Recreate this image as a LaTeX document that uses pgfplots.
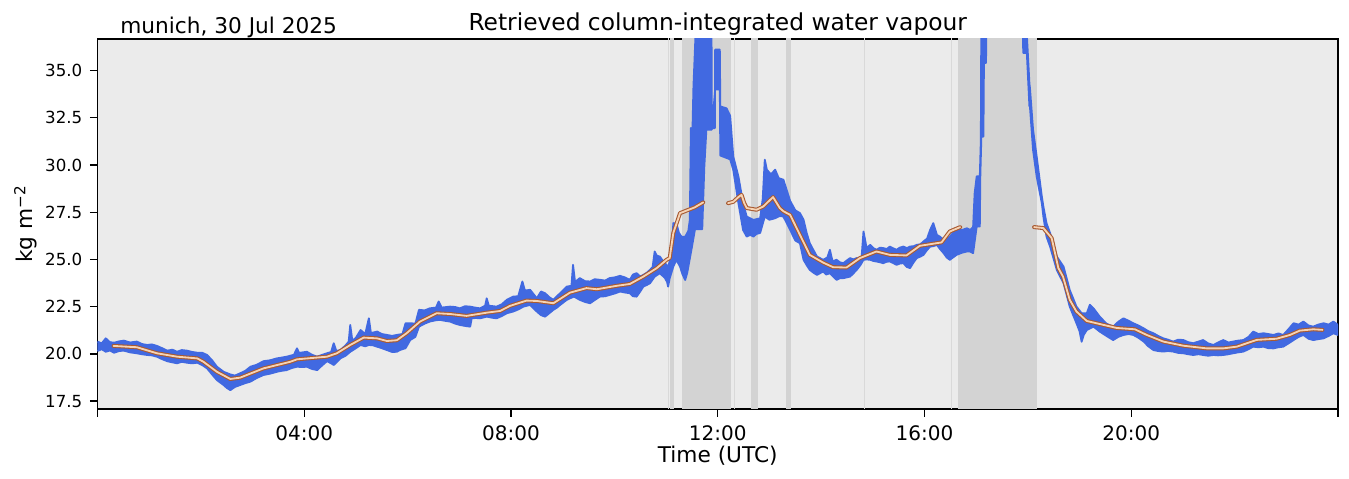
\documentclass[border=0pt]{standalone}
\usepackage{fontspec}
\setmainfont{DejaVu Sans}
\usepackage{pgfplots}
\usepackage{pgfplotstable}
\pgfplotsset{compat=1.18}

\definecolor{bgc}{HTML}{EBEBEB}
\definecolor{bandc}{HTML}{D3D3D3}
\definecolor{thinc}{HTML}{D9D9D9}
\definecolor{wvblue}{HTML}{4169E1}
\definecolor{smout}{HTML}{A85A32}
\definecolor{smin}{HTML}{F6D3B4}

% upper edge of the retrieved IWV scatter
\pgfplotstableread{
t v
0.00 20.65
0.08 20.55
0.16 20.82
0.24 20.62
0.32 20.59
0.42 20.66
0.51 20.70
0.63 20.60
0.76 20.65
0.86 20.52
0.96 20.47
1.05 20.50
1.15 20.42
1.25 20.30
1.35 20.17
1.45 20.22
1.54 20.11
1.63 20.20
1.73 20.17
1.83 20.10
1.93 20.06
2.03 20.05
2.12 19.94
2.22 19.65
2.31 19.32
2.44 19.05
2.57 18.91
2.66 18.85
2.76 18.97
2.86 19.10
2.96 19.32
3.08 19.42
3.21 19.61
3.34 19.66
3.47 19.76
3.56 19.80
3.66 19.85
3.80 19.95
3.86 20.29
3.90 20.05
4.05 20.11
4.15 19.95
4.25 19.85
4.35 19.95
4.44 20.03
4.52 20.10
4.57 20.56
4.62 20.15
4.70 20.20
4.80 20.45
4.86 20.65
4.89 21.53
4.93 20.70
5.00 20.85
5.09 21.26
5.18 21.05
5.25 21.88
5.29 21.10
5.41 21.18
5.50 21.05
5.60 21.00
5.70 20.95
5.79 21.00
5.90 21.05
5.96 21.62
6.05 21.62
6.15 21.60
6.22 22.33
6.33 22.30
6.43 22.41
6.55 22.45
6.60 22.77
6.66 22.45
6.82 22.50
6.92 22.48
7.01 22.41
7.11 22.52
7.21 22.50
7.30 22.45
7.40 22.41
7.50 22.55
7.53 22.94
7.57 22.55
7.72 22.50
7.82 22.62
7.92 22.86
8.04 23.03
8.14 23.05
8.22 23.83
8.27 23.35
8.37 23.39
8.44 23.15
8.50 22.94
8.58 23.30
8.66 23.21
8.74 23.00
8.82 22.86
8.89 23.05
8.95 23.21
9.08 23.56
9.17 23.60
9.20 24.71
9.24 23.80
9.33 24.01
9.43 23.85
9.53 23.83
9.62 23.95
9.72 23.92
9.82 23.88
9.91 24.01
10.01 24.05
10.11 24.13
10.20 24.05
10.30 23.92
10.36 24.20
10.43 24.27
10.50 24.10
10.56 24.18
10.63 24.30
10.69 24.45
10.74 24.60
10.78 25.42
10.82 25.20
10.88 25.15
10.93 24.95
10.98 24.80
11.04 24.60
11.07 24.90
11.12 25.80
11.14 26.92
11.20 26.90
11.25 26.40
11.30 26.20
11.37 26.20
11.43 26.50
11.46 27.10
11.48 31.96
11.50 30.50
11.53 34.17
11.57 36.90
11.88 36.90
11.885 31.95
11.945 31.95
11.95 36.11
12.04 36.11
12.05 33.10
12.17 33.00
12.24 32.60
12.30 30.45
12.40 29.39
12.49 27.98
12.56 27.27
12.69 27.09
12.82 27.18
12.87 28.20
12.91 30.28
12.95 29.75
13.03 29.50
13.11 29.75
13.18 29.30
13.27 29.22
13.40 28.10
13.50 27.60
13.59 27.45
13.66 27.10
13.72 26.40
13.78 25.86
13.85 25.50
13.92 25.15
14.04 24.98
14.12 25.10
14.17 25.51
14.22 24.90
14.30 24.98
14.36 24.85
14.43 24.80
14.50 24.95
14.56 25.07
14.62 25.00
14.69 25.07
14.78 25.00
14.82 26.48
14.88 25.60
14.95 25.77
15.01 25.60
15.07 25.51
15.14 25.62
15.20 25.60
15.27 25.55
15.33 25.68
15.40 25.58
15.46 25.51
15.52 25.62
15.59 25.68
15.66 25.60
15.72 25.68
15.79 25.70
15.85 25.77
15.92 25.80
15.98 25.95
16.05 26.10
16.11 26.57
16.17 26.92
16.24 26.30
16.30 26.20
16.37 26.04
16.43 26.10
16.49 26.21
16.55 26.40
16.62 26.57
16.72 26.55
16.82 26.65
16.88 26.56
16.94 26.70
16.97 28.50
17.01 29.40
17.07 29.40
17.09 31.30
17.10 38.50
17.97 38.50
17.98 36.90
18.03 34.30
18.04 34.08
18.10 31.87
18.17 30.45
18.27 28.33
18.30 27.80
18.36 26.92
18.43 26.39
18.56 25.15
18.69 24.62
18.81 23.38
18.94 22.50
19.04 22.15
19.14 22.15
19.20 22.60
19.27 22.41
19.39 21.97
19.52 21.60
19.65 21.44
19.75 21.70
19.85 21.88
19.95 21.75
20.04 21.62
20.14 21.50
20.24 21.35
20.33 21.20
20.43 21.09
20.52 20.95
20.62 20.82
20.71 20.75
20.81 20.65
20.91 20.75
21.01 20.73
21.10 20.62
21.20 20.56
21.30 20.65
21.39 20.73
21.49 20.55
21.59 20.47
21.68 20.60
21.78 20.73
21.88 20.60
21.97 20.65
22.07 20.70
22.17 20.73
22.27 20.90
22.36 21.18
22.46 21.05
22.56 21.09
22.65 21.05
22.75 21.00
22.85 21.08
22.94 21.00
23.04 21.30
23.14 21.62
23.24 21.55
23.33 21.71
23.43 21.50
23.52 21.44
23.62 21.55
23.72 21.62
23.82 21.55
23.91 21.71
24.00 21.53
}\upperedge

% lower edge of the retrieved IWV scatter
\pgfplotstableread{
t v
0.00 20.15
0.08 20.25
0.16 20.11
0.24 20.18
0.32 20.06
0.42 20.15
0.51 20.17
0.63 20.08
0.76 20.03
0.86 19.98
0.96 19.94
1.05 19.92
1.15 19.85
1.25 19.72
1.35 19.61
1.45 19.55
1.54 19.50
1.63 19.58
1.73 19.53
1.83 19.50
1.93 19.53
2.03 19.40
2.12 19.23
2.22 18.90
2.31 18.61
2.44 18.35
2.50 18.20
2.57 18.08
2.66 18.25
2.76 18.35
2.86 18.45
2.96 18.53
3.08 18.72
3.21 18.88
3.34 18.95
3.47 19.05
3.56 19.10
3.66 19.14
3.76 19.25
3.86 19.32
3.96 19.30
4.05 19.32
4.15 19.20
4.25 19.14
4.35 19.40
4.44 19.61
4.52 19.50
4.57 19.41
4.64 19.60
4.70 19.76
4.80 19.90
4.89 20.11
5.00 20.30
5.09 20.47
5.18 20.40
5.25 20.47
5.33 20.45
5.41 20.38
5.50 20.30
5.60 20.20
5.70 20.10
5.79 20.11
5.85 20.20
5.96 20.30
6.05 20.73
6.15 20.90
6.22 21.44
6.33 21.60
6.43 21.71
6.55 21.78
6.63 21.80
6.72 21.75
6.82 21.71
6.92 21.60
7.01 21.53
7.11 21.48
7.21 21.44
7.24 21.88
7.32 21.90
7.40 21.88
7.53 21.97
7.62 21.92
7.72 21.88
7.82 22.00
7.92 22.15
8.04 22.24
8.14 22.35
8.24 22.50
8.37 22.59
8.44 22.40
8.50 22.24
8.58 22.05
8.66 21.97
8.74 22.15
8.82 22.33
8.89 22.45
8.95 22.59
9.08 22.86
9.15 22.95
9.22 23.03
9.33 22.86
9.43 22.75
9.53 22.68
9.62 22.85
9.72 23.03
9.82 23.05
9.91 23.12
10.01 23.20
10.11 23.30
10.20 23.25
10.30 23.21
10.36 23.05
10.43 23.03
10.50 23.30
10.56 23.56
10.63 23.65
10.69 23.74
10.78 24.09
10.88 24.27
10.98 24.01
11.02 23.80
11.04 23.56
11.07 24.00
11.14 24.62
11.20 24.98
11.27 24.62
11.32 24.20
11.37 23.91
11.41 24.30
11.45 24.90
11.49 25.50
11.56 26.60
11.70 26.60
11.74 29.90
11.78 31.87
11.885 31.87
11.95 34.00
12.04 34.00
12.05 30.50
12.24 30.30
12.30 29.75
12.40 27.98
12.49 26.56
12.56 26.21
12.63 26.30
12.69 26.21
12.75 26.35
12.82 26.40
12.91 27.27
13.00 27.10
13.11 27.18
13.20 27.30
13.27 27.27
13.40 26.57
13.50 26.00
13.59 25.86
13.66 24.98
13.72 24.70
13.78 24.45
13.85 24.30
13.92 24.18
14.04 24.36
14.10 24.20
14.17 24.27
14.23 24.10
14.30 23.92
14.36 24.00
14.43 24.01
14.50 24.05
14.56 24.09
14.62 24.25
14.69 24.45
14.76 24.70
14.82 24.98
14.88 25.00
14.95 24.98
15.01 24.92
15.07 24.89
15.14 24.85
15.20 24.80
15.27 24.88
15.33 24.89
15.40 24.80
15.46 24.71
15.52 24.78
15.59 24.80
15.66 24.60
15.72 24.54
15.79 24.85
15.85 25.07
15.92 25.15
15.98 25.24
16.05 25.50
16.11 25.68
16.17 25.70
16.24 25.77
16.30 25.55
16.37 25.33
16.43 25.10
16.49 24.98
16.55 25.10
16.62 25.24
16.72 25.35
16.82 25.42
16.88 25.42
16.94 25.33
17.01 26.74
17.07 26.74
17.08 29.40
17.10 31.50
17.14 31.50
17.15 35.40
17.19 35.40
17.20 38.00
17.90 38.00
17.91 35.93
17.98 35.93
18.03 33.10
18.04 33.10
18.10 30.80
18.17 29.39
18.27 27.98
18.30 27.27
18.36 26.21
18.43 25.68
18.56 24.44
18.69 23.74
18.81 22.50
18.94 21.62
19.00 21.20
19.04 20.64
19.08 21.00
19.14 21.26
19.27 21.44
19.39 21.18
19.52 20.95
19.65 20.73
19.75 20.90
19.85 21.00
19.95 21.05
20.04 21.00
20.14 20.85
20.24 20.65
20.33 20.40
20.43 20.20
20.52 20.15
20.62 20.12
20.71 20.15
20.81 20.12
20.91 20.05
21.01 20.03
21.10 19.98
21.20 19.94
21.30 19.98
21.39 19.94
21.49 19.90
21.59 19.94
21.68 19.92
21.78 19.94
21.88 19.98
21.97 20.03
22.07 20.08
22.17 20.12
22.27 20.25
22.36 20.38
22.46 20.35
22.56 20.38
22.65 20.30
22.75 20.29
22.85 20.35
22.94 20.38
23.04 20.55
23.14 20.73
23.24 20.90
23.33 21.00
23.43 20.80
23.52 20.73
23.62 20.78
23.72 20.82
23.82 20.95
23.91 21.09
24.00 21.00
}\loweredge

% outline of the scatter: upper edge forward, lower edge backward
\pgfplotstablesort[sort key=t, sort cmp=float >]{\lowerrev}{\loweredge}
\pgfplotstablevertcat{\upperedge}{\lowerrev}

% smoothed IWV, three pieces
\pgfplotstableread{
t v
0.31 20.42
0.76 20.35
1.15 20.03
1.54 19.85
1.93 19.76
2.05 19.58
2.31 19.05
2.57 18.67
2.76 18.74
3.21 19.23
3.73 19.58
3.86 19.71
4.44 19.85
4.63 20.03
4.89 20.47
5.15 20.86
5.41 20.82
5.60 20.68
5.79 20.72
5.98 21.09
6.24 21.71
6.56 22.15
6.82 22.11
7.14 22.01
7.53 22.18
7.79 22.27
7.98 22.54
8.30 22.82
8.50 22.80
8.82 22.68
9.14 23.24
9.46 23.48
9.66 23.42
10.04 23.60
10.30 23.70
10.56 24.09
10.82 24.54
11.01 24.98
11.07 25.07
11.14 26.39
11.27 27.45
11.40 27.59
11.55 27.75
11.72 28.02
}\smoothA

\pgfplotstableread{
t v
12.20 27.98
12.30 28.05
12.40 28.30
12.46 28.42
12.51 28.00
12.56 27.72
12.75 27.63
12.88 27.80
13.07 28.30
13.20 27.72
13.27 27.55
13.40 27.36
13.59 26.30
13.78 25.24
14.04 24.83
14.23 24.59
14.49 24.57
14.75 25.07
15.07 25.42
15.33 25.24
15.65 25.21
15.91 25.72
16.33 25.90
16.49 26.48
16.69 26.71
}\smoothB

\pgfplotstableread{
t v
18.12 26.71
18.30 26.66
18.46 26.13
18.59 24.54
18.68 24.09
18.81 22.86
18.94 22.24
19.14 21.74
19.39 21.58
19.72 21.37
20.07 21.30
20.30 21.00
20.62 20.65
21.01 20.43
21.46 20.29
21.78 20.29
22.04 20.38
22.43 20.74
22.81 20.80
23.07 21.00
23.26 21.23
23.52 21.30
23.70 21.27
}\smoothC

\begin{document}
\begin{tikzpicture}
\begin{axis}[
    name=ax,
    scale only axis,
    width=744.3pt, height=222pt,
    xmin=0, xmax=24, ymin=17.08, ymax=36.67,
    axis background/.style={fill=bgc},
    axis line style={line width=0.8pt},
    tick align=outside,
    major tick length=4.5pt,
    every tick/.style={black, line width=0.8pt},
    xtick pos=bottom, ytick pos=left,
    xtick={0,4,8,12,16,20,24},
    xticklabels={,04:00,08:00,12:00,16:00,20:00,},
    ytick={17.5,20,22.5,25,27.5,30,32.5,35},
    /pgf/number format/assume math mode=true,
    yticklabel={\pgfmathprintnumber[fixed,fixed zerofill,precision=1]{\tick}\hspace*{4.4pt}},
    xticklabel style={font=\fontsize{12}{14}\selectfont, yshift=-1.8pt},
    yticklabel style={font=\fontsize{10}{12}\selectfont, anchor=east, inner sep=0pt},
    xlabel={Time (UTC)},
    ylabel={kg m\textsuperscript{−2}},
    xlabel style={font=\fontsize{13}{15}\selectfont, at={(axis description cs:0.5,0)}, anchor=base, yshift=-32.4pt},
    ylabel style={font=\fontsize{13}{15}\selectfont, at={(axis description cs:-0.0523,0.5)}, anchor=base},
    title={Retrieved column-integrated water vapour},
    every axis title shift=0pt,
    title style={font=\fontsize{14}{17}\selectfont, at={(axis description cs:0.5,1)}, anchor=base, yshift=4.8pt},
]
% gaps / flagged periods
\addplot[draw=none, fill=thinc] coordinates {(11.03,40) (11.05,40)} \closedcycle;
\addplot[draw=none, fill=bandc] coordinates {(11.075,40) (11.15,40)} \closedcycle;
\addplot[draw=none, fill=bandc] coordinates {(11.31,40) (12.25,40)} \closedcycle;
\addplot[draw=none, fill=thinc] coordinates {(12.31,40) (12.33,40)} \closedcycle;
\addplot[draw=none, fill=bandc] coordinates {(12.64,40) (12.77,40)} \closedcycle;
\addplot[draw=none, fill=bandc] coordinates {(13.32,40) (13.42,40)} \closedcycle;
\addplot[draw=none, fill=thinc] coordinates {(14.82,40) (14.84,40)} \closedcycle;
\addplot[draw=none, fill=thinc] coordinates {(16.51,40) (16.53,40)} \closedcycle;
\addplot[draw=none, fill=bandc] coordinates {(16.65,40) (18.17,40)} \closedcycle;

% retrieved IWV (scatter drawn as its outline)
\addplot[fill=wvblue, draw=wvblue, line width=1.1pt, line join=round] table[x=t, y=v] {\upperedge};

% smoothed IWV
\addplot[smout, line width=2.4pt, line join=round, line cap=round] table[x=t, y=v] {\smoothA};
\addplot[smin, line width=1.1pt, line join=round, line cap=round] table[x=t, y=v] {\smoothA};
\addplot[smout, line width=2.4pt, line join=round, line cap=round] table[x=t, y=v] {\smoothB};
\addplot[smin, line width=1.1pt, line join=round, line cap=round] table[x=t, y=v] {\smoothB};
\addplot[smout, line width=2.4pt, line join=round, line cap=round] table[x=t, y=v] {\smoothC};
\addplot[smin, line width=1.1pt, line join=round, line cap=round] table[x=t, y=v] {\smoothC};
\end{axis}
\node[anchor=base west, font=\fontsize{13}{15}\selectfont] at ([xshift=10.2pt, yshift=3.2pt]ax.north west) {munich, 30 Jul 2025};
\pgfresetboundingbox
\path[use as bounding box] (-58.5pt,-41.4pt) rectangle (750.9pt,245.4pt);
\end{tikzpicture}
\end{document}
